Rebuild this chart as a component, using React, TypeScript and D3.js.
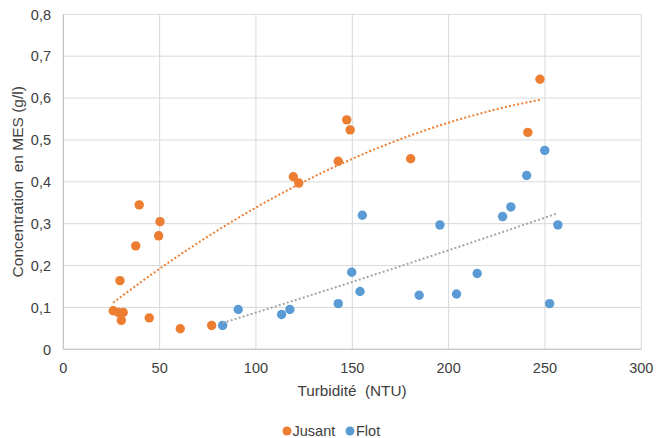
import React from "react";
import * as d3 from "d3";

const jusantX = [25.9, 28.5, 31.1, 29.4, 30.1, 39.4, 37.6, 50.2, 49.5, 44.6, 60.7, 77.0, 119.4, 122.2, 147.1, 148.9, 142.7, 180.3, 247.4, 241.1];
const jusantY = [0.092, 0.088, 0.088, 0.164, 0.069, 0.345, 0.247, 0.305, 0.271, 0.075, 0.049, 0.057, 0.412, 0.397, 0.548, 0.524, 0.449, 0.455, 0.645, 0.518];
const flotX = [82.7, 90.8, 113.3, 117.6, 249.9, 240.5, 155.2, 195.5, 228.0, 232.3, 256.7, 149.7, 154.0, 142.7, 184.7, 204.1, 214.8, 252.4];
const flotY = [0.057, 0.095, 0.083, 0.095, 0.475, 0.415, 0.320, 0.297, 0.317, 0.340, 0.297, 0.184, 0.138, 0.109, 0.129, 0.132, 0.181, 0.109];
const xTicks = [0, 50, 100, 150, 200, 250, 300];
const yTicks = [0, 0.1, 0.2, 0.3, 0.4, 0.5, 0.6, 0.7, 0.8];
const seriesNames = ["Jusant", "Flot"];
const colors = ["#ED7D31", "#5B9BD5"];
const trendColors = ["#ED7D31", "#A5A5A5"];

// least-squares polynomial fit (order 2), as in the spreadsheet trendline
function polyFit(xs: number[], ys: number[], order: number): number[] {
  const n = order + 1;
  const A: number[][] = Array.from({ length: n }, () => new Array(n + 1).fill(0));
  for (let i = 0; i < xs.length; i++) {
    for (let r = 0; r < n; r++) {
      for (let c = 0; c < n; c++) A[r][c] += Math.pow(xs[i], r + c);
      A[r][n] += ys[i] * Math.pow(xs[i], r);
    }
  }
  for (let i = 0; i < n; i++) {
    let p = i;
    for (let k = i + 1; k < n; k++) if (Math.abs(A[k][i]) > Math.abs(A[p][i])) p = k;
    [A[i], A[p]] = [A[p], A[i]];
    for (let k = i + 1; k < n; k++) {
      const f = A[k][i] / A[i][i];
      for (let j = i; j <= n; j++) A[k][j] -= f * A[i][j];
    }
  }
  const coef = new Array(n).fill(0);
  for (let i = n - 1; i >= 0; i--) {
    let s = A[i][n];
    for (let j = i + 1; j < n; j++) s -= A[i][j] * coef[j];
    coef[i] = s / A[i][i];
  }
  return coef;
}

export default function App() {
  const W = 656, H = 438;
  const x = d3.scaleLinear().domain([0, 300]).range([63.3, 641.3]);
  const y = d3.scaleLinear().domain([0, 0.8]).range([349.3, 14.3]);
  const font = "'Liberation Sans', Arial, sans-serif";
  const series = [
    { xs: jusantX, ys: jusantY },
    { xs: flotX, ys: flotY },
  ];
  const trends = series.map((s, i) => {
    const coef = polyFit(s.xs, s.ys, 2);
    const lo = d3.min(s.xs)!, hi = d3.max(s.xs)!;
    const pts = d3.range(0, 61).map((k) => {
      const xv = lo + ((hi - lo) * k) / 60;
      return [xv, coef[0] + coef[1] * xv + coef[2] * xv * xv] as [number, number];
    });
    const line = d3.line<[number, number]>().x((d) => x(d[0])).y((d) => y(d[1]));
    return <path key={i} d={line(pts)!} fill="none" stroke={trendColors[i]} strokeWidth={2} strokeDasharray="2,2.2" />;
  });
  return (
    <svg width={W} height={H} style={{ position: "absolute", left: 0, top: 0 }} fontFamily={font}>
      <rect width={W} height={H} fill="#fff" />
      {xTicks.map((t) => (
        <line key={"gx" + t} x1={x(t)} x2={x(t)} y1={y(0.8)} y2={y(0)} stroke="#D9D9D9" strokeWidth={1} />
      ))}
      {yTicks.map((t) => (
        <line key={"gy" + t} x1={x(0)} x2={x(300)} y1={y(t)} y2={y(t)} stroke="#D9D9D9" strokeWidth={1} />
      ))}
      <line x1={x(0)} x2={x(0)} y1={y(0.8)} y2={y(0)} stroke="#BFBFBF" />
      <line x1={x(0)} x2={x(300)} y1={y(0)} y2={y(0)} stroke="#BFBFBF" />
      {yTicks.map((t) => (
        <text key={"ty" + t} x={51} y={y(t)} dy="0.36em" textAnchor="end" fontSize={14.5} fill="#404040">
          {t === 0 ? "0" : d3.format(".1f")(t).replace(".", ",")}
        </text>
      ))}
      {xTicks.map((t) => (
        <text key={"tx" + t} x={x(t)} y={373} textAnchor="middle" fontSize={14.5} fill="#404040">
          {t}
        </text>
      ))}
      <text x={352} y={395.5} textAnchor="middle" fontSize={15.3} fill="#404040" style={{ whiteSpace: "pre" }}>
        {"Turbidité  (NTU)"}
      </text>
      <text transform={`translate(23,${(y(0) + y(0.8)) / 2}) rotate(-90)`} textAnchor="middle" fontSize={15.5} fill="#404040" style={{ whiteSpace: "pre" }}>
        {"Concentration  en MES (g/l)"}
      </text>
      {series.map((s, i) =>
        s.xs.map((xv, k) => <circle key={i + "-" + k} cx={x(xv)} cy={y(s.ys[k])} r={4.7} fill={colors[i]} />)
      )}
      {trends}
      <g fontSize={14.5} fill="#404040">
        <circle cx={287} cy={431} r={4.5} fill={colors[0]} />
        <text x={292.5} y={431} dy="0.36em">{seriesNames[0]}</text>
        <circle cx={350} cy={431} r={4.5} fill={colors[1]} />
        <text x={356} y={431} dy="0.36em">{seriesNames[1]}</text>
      </g>
    </svg>
  );
}
